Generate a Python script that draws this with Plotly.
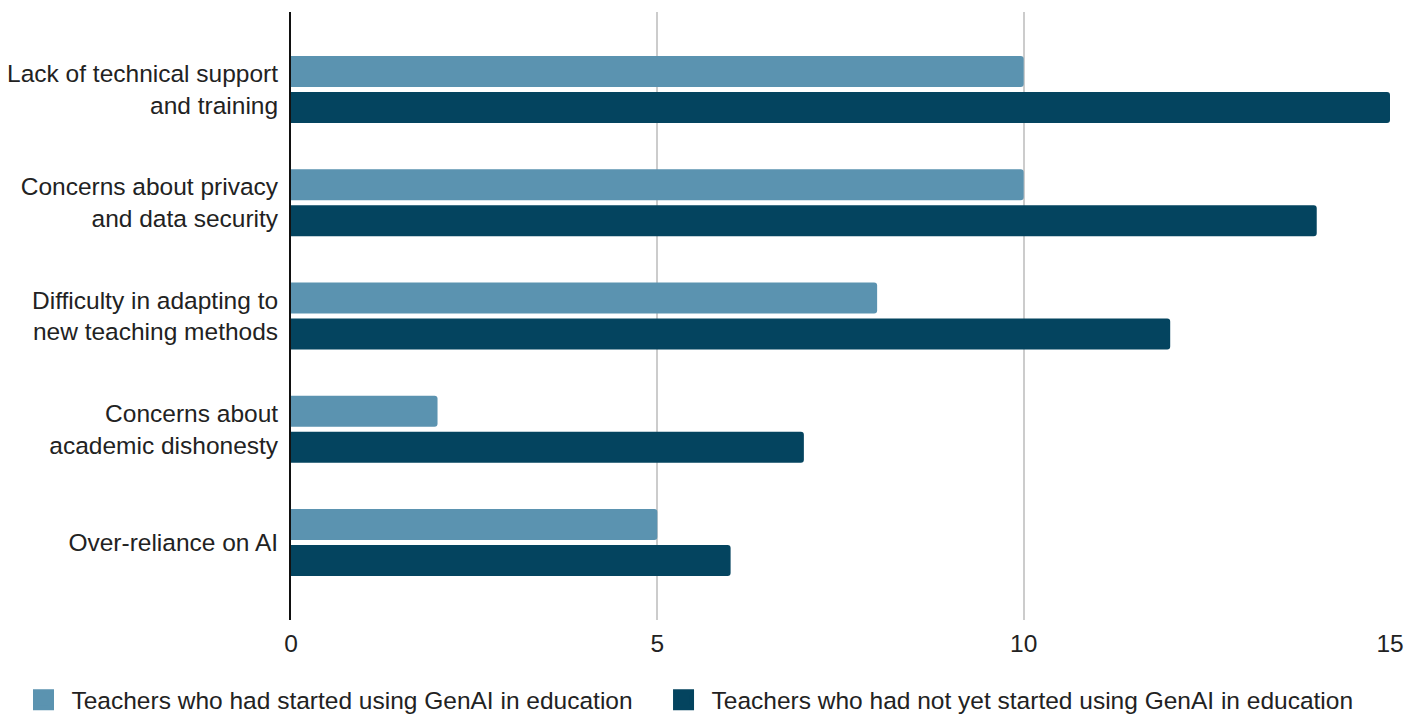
import plotly.graph_objects as go

categories = [
    "Lack of technical support<br>and training",
    "Concerns about privacy<br>and data security",
    "Difficulty in adapting to<br>new teaching methods",
    "Concerns about<br>academic dishonesty",
    "Over-reliance on AI",
]
started = [10, 10, 8, 2, 5]
not_started = [15, 14, 12, 7, 6]
series_names = [
    "Teachers who had started using GenAI in education",
    "Teachers who had not yet started using GenAI in education",
]
colors = ["#5B93B0", "#04445F"]
legend_ids = ["legend", "legend2"]
x_ticks = [0, 5, 10, 15]

fig = go.Figure()
for vals, name, col in zip([started, not_started], series_names, colors):
    fig.add_trace(go.Bar(y=categories, x=vals, orientation="h", name=name, showlegend=False,
                         marker=dict(color=col, cornerradius=3, line=dict(width=0))))
# legend-only entries with larger square symbols
for name, col, lid in zip(series_names, colors, legend_ids):
    fig.add_trace(go.Scatter(x=[None], y=[None], mode="markers", name=name, legend=lid,
                             marker=dict(symbol="square", size=16, color=col,
                                         line=dict(color=col, width=5))))

legend_common = dict(orientation="h", xanchor="left", yanchor="middle", y=-0.1313,
                     font=dict(size=24.5, color="#222222"), itemwidth=46,
                     bgcolor="rgba(0,0,0,0)")

fig.update_layout(
    width=1419, height=715,
    margin=dict(l=291, r=29, t=12, b=95, autoexpand=False),
    paper_bgcolor="white", plot_bgcolor="white",
    barmode="group", bargap=0.364, bargroupgap=0.14,
    font=dict(family="Liberation Sans, Arial, sans-serif", size=24.5, color="#222222"),
    showlegend=True,
    legend=dict(x=-0.2507, **legend_common),
    legend2=dict(x=0.3317, **legend_common),
)
fig.update_xaxes(range=[0, 15], tickvals=x_ticks, showgrid=True, gridcolor="#CCCCCC", gridwidth=1.5,
                 zeroline=False, showline=False, ticks="", ticklabelstandoff=6, automargin=False)
fig.update_yaxes(range=[4.685, -0.685], showline=True, linecolor="#111111", linewidth=2,
                 ticks="", showgrid=False, ticklabelstandoff=6, automargin=False)

fig.write_html("out.html")
